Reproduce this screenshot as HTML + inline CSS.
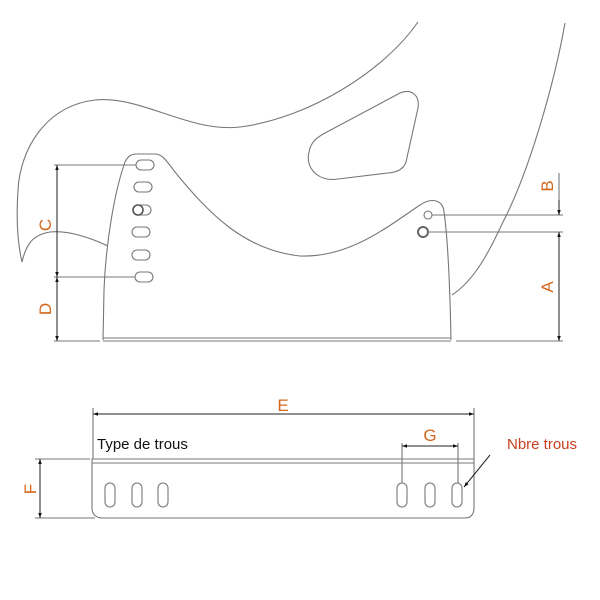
<!DOCTYPE html>
<html><head><meta charset="utf-8"><style>
html,body{margin:0;padding:0;background:#fff;}
svg{display:block}
text{font-family:"Liberation Sans",sans-serif;}
</style></head><body>
<svg width="600" height="600" viewBox="0 0 600 600" xmlns="http://www.w3.org/2000/svg">
<defs>
<marker id="ar" viewBox="0 0 10 10" refX="10" refY="5" markerWidth="9" markerHeight="5" orient="auto-start-reverse" markerUnits="userSpaceOnUse"><path d="M0,1.5 L10,5 L0,8.5 z" fill="#111"/></marker>
</defs>
<g fill="none" stroke="#777" stroke-width="1.1">
<!-- seat shell -->
<path d="M418,22 C385,70 310,118 240,127 C190,133 140,95 95,100 C45,106 20,150 18,190 C16,220 18,245 22,262 C26,245 32,235 50,232 C70,230 95,240 108,246"/>
<path d="M565,23 C555,80 530,170 503,222 C490,250 475,280 452,295"/>
<!-- window -->
<path d="M400,93 C412,88 420,96 418,108 L406,162 C403,170 397,172 388,173 L338,179 C318,182 305,168 309,152 C311,142 316,138 325,133 Z"/>
<!-- side plate -->
<path d="M103,340 L104,290 C106,240 115,190 125,162 C128,156 131,154 137,154 L155,154 C162,154 166,160 175,172 C210,215 245,250 300,256 C350,258 390,225 420,205 C432,197 443,200 444,212 C448,240 450,290 451,340"/>
<line x1="103" y1="338" x2="451" y2="338"/>
<line x1="103" y1="341" x2="451" y2="341"/>
<!-- slots left -->
<rect x="136" y="160" width="18" height="10" rx="5"/>
<rect x="134" y="182" width="18" height="10" rx="5"/>
<rect x="133" y="205" width="18" height="10" rx="5"/>
<circle cx="138" cy="210" r="5" stroke="#555" stroke-width="1.6"/>
<rect x="132" y="227" width="18" height="10" rx="5"/>
<rect x="132" y="250" width="18" height="10" rx="5"/>
<rect x="135" y="272" width="18" height="10" rx="5"/>
<!-- right holes -->
<circle cx="428" cy="215" r="4"/>
<circle cx="423" cy="232" r="5" stroke="#666" stroke-width="2"/>
<!-- extension lines -->
<line x1="54" y1="165" x2="136" y2="165"/>
<line x1="54" y1="277" x2="135" y2="277"/>
<line x1="54" y1="341" x2="100" y2="341"/>
<line x1="432" y1="215" x2="563" y2="215"/>
<line x1="428" y1="232" x2="563" y2="232"/>
<line x1="456" y1="341" x2="563" y2="341"/>
<line x1="559" y1="173" x2="559" y2="200"/>
<!-- bottom plate -->
<path d="M92,459 L92,508 C92,514 96,518 102,518 L465,518 C471,518 474,514 474,508 L474,459 Z"/>
<line x1="92" y1="463" x2="474" y2="463"/>
<line x1="93" y1="408" x2="93" y2="459"/>
<line x1="474" y1="408" x2="474" y2="459"/>
<line x1="35" y1="459" x2="90" y2="459"/>
<line x1="35" y1="518" x2="95" y2="518"/>
<rect x="105" y="483" width="10" height="24" rx="5"/>
<rect x="132" y="483" width="10" height="24" rx="5"/>
<rect x="158" y="483" width="10" height="24" rx="5"/>
<rect x="397" y="483" width="10" height="24" rx="5"/>
<rect x="425" y="483" width="10" height="24" rx="5"/>
<rect x="452" y="483" width="10" height="24" rx="5"/>
<line x1="402" y1="443" x2="402" y2="483"/>
<line x1="458" y1="443" x2="458" y2="483"/>
</g>
<!-- dimension lines with arrows -->
<g stroke="#222" stroke-width="1" fill="none">
<line x1="57" y1="165" x2="57" y2="277" marker-start="url(#ar)" marker-end="url(#ar)"/>
<line x1="57" y1="277" x2="57" y2="341" marker-start="url(#ar)" marker-end="url(#ar)"/>
<line x1="559" y1="200" x2="559" y2="215" marker-end="url(#ar)"/>
<line x1="559" y1="232" x2="559" y2="341" marker-start="url(#ar)" marker-end="url(#ar)"/>
<line x1="93" y1="414" x2="474" y2="414" marker-start="url(#ar)" marker-end="url(#ar)"/>
<line x1="40" y1="459" x2="40" y2="518" marker-start="url(#ar)" marker-end="url(#ar)"/>
<line x1="402" y1="446" x2="458" y2="446" marker-start="url(#ar)" marker-end="url(#ar)"/>
<line x1="490" y1="455" x2="464" y2="487" marker-end="url(#ar)"/>
</g>
<!-- labels -->
<g fill="#d2691e" font-size="17">
<text x="0" y="0" transform="translate(51,225) rotate(-90)" text-anchor="middle">C</text>
<text x="0" y="0" transform="translate(51,309) rotate(-90)" text-anchor="middle">D</text>
<text x="0" y="0" transform="translate(553,186) rotate(-90)" text-anchor="middle">B</text>
<text x="0" y="0" transform="translate(553,287) rotate(-90)" text-anchor="middle">A</text>
<text x="0" y="0" transform="translate(36,489) rotate(-90)" text-anchor="middle">F</text>
<text x="283" y="411" text-anchor="middle">E</text>
<text x="430" y="441" text-anchor="middle">G</text>
<text x="507" y="449" font-size="15" fill="#c8401e">Nbre trous</text>
</g>
<text x="97" y="449" font-size="15" fill="#111">Type de trous</text>
</svg>
</body></html>
